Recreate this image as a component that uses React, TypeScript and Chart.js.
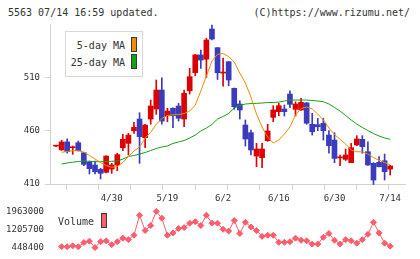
import React, { useEffect, useRef } from 'react';
import { Chart, registerables } from 'chart.js';

Chart.register(...registerables);

const FONT = '"DejaVu Sans Mono", monospace';
const TEXT = '#333333';
const AXIS = '#d2d2d2';
const UP = '#dd0000';
const DOWN = '#3b3bbd';
const MA5_COLOR = '#f08c00';
const MA25_COLOR = '#14a314';
const VOL_COLOR = '#ff5c6c';

// Daily prices, session 0 .. 60 (last session 7/14)
const opens = [445.5, 442, 449.5, 444, 448.7, 439.3, 430.3, 427.8, 423.7, 421, 424, 427.8, 444, 448.1, 459.9, 470.9, 453.4, 470.9, 480.3, 498.1, 474, 481, 483.1, 470.9, 497.4, 514.3, 531, 527, 555.3, 537.8, 514, 524.6, 499.7, 485, 465.3, 458.1, 436.2, 434.7, 450.6, 472.5, 477.8, 480.3, 494.3, 480, 479.4, 486, 466, 465.6, 466.9, 455.9, 451.2, 434.5, 433.1, 430, 446.6, 451.9, 440.3, 429.4, 430.3, 431.8, 424];
const highs = [446, 451, 452.3, 445.6, 450.3, 439.5, 431.6, 431.6, 424.7, 436.5, 429.4, 438.8, 456.6, 457.5, 467.8, 476.8, 466, 488.7, 507.5, 509.6, 481, 481.5, 485.6, 498.1, 518.4, 531.5, 535.6, 546.5, 559, 538, 528, 525, 500, 488, 470, 460.6, 448.1, 448.1, 466, 483.4, 485.6, 484, 497.4, 487, 490.3, 486.5, 476.3, 471.6, 471.6, 460, 458.1, 437.2, 442.8, 448.1, 455.3, 455.3, 449.6, 430, 435.6, 438.1, 427.5];
const lows = [445, 441.5, 438.8, 437.8, 441, 427.2, 419.4, 419.4, 414.7, 420.5, 420, 422.5, 441.2, 437.2, 457.5, 429.4, 444, 466, 475.3, 466, 468.4, 462.8, 469, 463.7, 494.3, 511.5, 518.4, 509.8, 545, 508, 501.8, 502.1, 480, 470.9, 445.6, 437.2, 426.2, 425.3, 450, 468.4, 474, 473.7, 481.5, 473.7, 479, 466, 455.9, 460, 451.2, 438.8, 430, 427.2, 432, 430, 446, 438.8, 427.5, 409.5, 426, 413.7, 418.4];
const closes = [445.8, 449.4, 440.3, 444.5, 441.2, 428.4, 424.4, 421.5, 420, 436.2, 427.8, 437.5, 451.9, 455.9, 463.1, 454.3, 465.3, 483.1, 498.1, 469, 478.4, 474, 471.6, 495, 510.6, 531, 526.2, 545, 545.9, 514.3, 514.6, 507.5, 482.4, 479.4, 452.2, 441.9, 442.8, 442.8, 459.7, 479.4, 483.4, 477.8, 484.7, 485, 486.6, 467, 459, 463.7, 460, 445.9, 434, 435, 437.2, 444, 452.2, 445, 427.8, 413.7, 426.2, 421.5, 426.9];

// Moving averages (no value on the first session)
const ma5 = [null, 439.7, 440.5, 441.2, 441.2, 440, 436.7, 433.4, 430.1, 427.3, 425.7, 426.4, 430.1, 435.8, 440.9, 444.7, 453, 458.5, 466, 471.4, 474.2, 474.9, 475.1, 476, 478.4, 484, 497.2, 511.2, 525.3, 531.6, 532.3, 529.5, 524.3, 514, 504.7, 491.5, 475.6, 463.4, 454, 448.4, 451.2, 456.9, 463.4, 474.7, 480.8, 482.2, 480.3, 475.6, 470, 462.5, 456.4, 451.9, 447.5, 441.9, 440.3, 440, 438.1, 434.8, 432.2, 430.1, 428];
const ma25 = [null, 428.7, 429.7, 430.4, 431.1, 431.6, 431.1, 430.9, 430.9, 431.1, 431.3, 431.6, 433.4, 435.8, 436.7, 438.1, 439.5, 441.4, 443.3, 444.7, 445.6, 448, 449.4, 450.8, 453.1, 455.9, 459.7, 462.5, 465.8, 470.9, 473.3, 476.1, 481.2, 483.6, 485, 485.4, 485.6, 485.9, 486.4, 486.4, 486.8, 487.8, 488.7, 488.7, 488.7, 488.7, 488.3, 487.8, 487.1, 485, 481.7, 478.4, 474.2, 470, 466.2, 463, 460.1, 457.3, 455, 453.1, 451.9];

// Volume for sessions 1 .. 60
const volumes = [485300, 485300, 522300, 485300, 657700, 719300, 448400, 694700, 731600, 571500, 694700, 842400, 780900, 965600, 1803000, 1162600, 1372000, 1963000, 1679800, 965600, 1064100, 1248800, 1285800, 1470500, 1532000, 1372000, 1803000, 1470500, 1470500, 1211900, 1138000, 1581300, 1039500, 1507400, 1310400, 1162600, 916300, 965600, 965600, 670000, 670000, 694700, 842400, 756200, 731600, 596200, 596200, 879400, 1039500, 756200, 596200, 780900, 731600, 633100, 780900, 1002500, 1507400, 1064100, 633100, 510000];

const dateTickSessions = [10, 20, 30, 40, 50, 60];
const dateTickLabels = ['4/30', '5/19', '6/2', '6/16', '6/30', '7/14'];
const priceTicks = [410, 460, 510];
const PRICE_MIN = 410;
const PRICE_MAX = 560;
const volumeTicks = [448400, 1205700, 1963000];

const X_MIN = -1.08;
const X_MAX = 62.66;
const X_MARKS = 11;

const tickFont = { family: FONT, size: 9 };

function PriceChart() {
  const ref = useRef<HTMLCanvasElement>(null);
  useEffect(() => {
    const idx = closes.map((_, i) => i);
    const colors = idx.map((i) => (closes[i] >= opens[i] ? UP : DOWN));
    const chart = new Chart(ref.current!, {
      type: 'bar',
      data: {
        datasets: [
          {
            type: 'line',
            label: '5-day MA',
            data: ma5.map((v, i) => ({ x: i, y: v })),
            borderColor: MA5_COLOR,
            borderWidth: 1,
            pointRadius: 0,
            order: 0,
          } as any,
          {
            type: 'line',
            label: '25-day MA',
            data: ma25.map((v, i) => ({ x: i, y: v })),
            borderColor: MA25_COLOR,
            borderWidth: 1,
            pointRadius: 0,
            order: 1,
          } as any,
          {
            label: 'body',
            data: idx.map((i) => ({ x: i, y: [Math.min(opens[i], closes[i]), Math.max(opens[i], closes[i])] })),
            backgroundColor: colors,
            barThickness: 5,
            minBarLength: 1,
            grouped: false,
            order: 2,
          } as any,
          {
            label: 'range',
            data: idx.map((i) => ({ x: i, y: [lows[i], highs[i]] })),
            backgroundColor: colors,
            barThickness: 1,
            grouped: false,
            clip: false,
            order: 3,
          } as any,
        ],
      },
      options: {
        responsive: false,
        animation: false,
        layout: { padding: { left: 0, right: 15, top: 24, bottom: 0 } },
        plugins: { legend: { display: false }, tooltip: { enabled: false } },
        scales: {
          x: {
            type: 'linear',
            min: X_MIN,
            max: X_MAX,
            offset: false,
            position: 'bottom',
            weight: 0,
            afterBuildTicks: (s: any) => {
              s.ticks = Array.from({ length: X_MARKS + 1 }, (_, k) => ({ value: X_MIN + (k * (X_MAX - X_MIN)) / X_MARKS }));
            },
            ticks: { display: false },
            grid: { display: true, drawOnChartArea: false, drawTicks: true, tickLength: 6, color: AXIS },
            border: { display: true, color: AXIS },
            afterFit: (s: any) => {
              s.height = 6;
            },
          },
          x2: {
            type: 'linear',
            min: X_MIN,
            max: X_MAX,
            offset: false,
            position: 'bottom',
            weight: 1,
            afterBuildTicks: (s: any) => {
              s.ticks = dateTickSessions.map((v) => ({ value: v }));
            },
            ticks: {
              padding: 3,
              font: tickFont,
              color: TEXT,
              maxRotation: 0,
              autoSkip: false,
              callback: (v: any) => dateTickLabels[dateTickSessions.indexOf(Number(v))] ?? '',
            },
            grid: { display: false, drawTicks: false },
            border: { display: false },
            afterFit: (s: any) => {
              s.height = 16;
            },
          },
          y: {
            type: 'linear',
            min: PRICE_MIN,
            max: PRICE_MAX,
            position: 'left',
            afterBuildTicks: (s: any) => {
              s.ticks = priceTicks.map((v) => ({ value: v }));
            },
            ticks: { font: tickFont, color: TEXT, padding: 5, callback: (v: any) => String(v) },
            grid: { display: true, drawOnChartArea: false, drawTicks: true, tickLength: 5, color: AXIS },
            border: { display: true, color: AXIS },
            afterFit: (s: any) => {
              s.width = 50;
            },
          },
        },
      } as any,
    });
    return () => chart.destroy();
  }, []);
  return <canvas ref={ref} width={420} height={206} style={{ position: 'absolute', left: 0, top: 0 }} />;
}

function VolumeChart() {
  const ref = useRef<HTMLCanvasElement>(null);
  useEffect(() => {
    const chart = new Chart(ref.current!, {
      type: 'line',
      data: {
        datasets: [
          {
            label: 'Volume',
            data: volumes.map((v, i) => ({ x: i + 1, y: v })),
            borderColor: VOL_COLOR,
            backgroundColor: VOL_COLOR,
            borderWidth: 1,
            pointStyle: 'rectRot',
            pointRadius: 3,
            pointBorderWidth: 1,
            pointBorderColor: VOL_COLOR,
            pointBackgroundColor: VOL_COLOR,
            clip: false,
          } as any,
        ],
      },
      options: {
        responsive: false,
        animation: false,
        layout: { padding: { left: 0, right: 15, top: 9, bottom: 9 } },
        plugins: { legend: { display: false }, tooltip: { enabled: false } },
        scales: {
          x: { type: 'linear', min: X_MIN, max: X_MAX, display: false },
          y: {
            type: 'linear',
            min: volumeTicks[0],
            max: volumeTicks[2],
            afterBuildTicks: (s: any) => {
              s.ticks = volumeTicks.map((v) => ({ value: v }));
            },
            ticks: { font: tickFont, color: TEXT, padding: 6, callback: (v: any) => String(v) },
            grid: { display: false, drawTicks: false },
            border: { display: false },
            afterFit: (s: any) => {
              s.width = 50;
            },
          },
        },
      } as any,
    });
    return () => chart.destroy();
  }, []);
  return <canvas ref={ref} width={420} height={59} style={{ position: 'absolute', left: 0, top: 200 }} />;
}

const swatch = (color: string, left: number, top: number): React.CSSProperties => ({
  position: 'absolute',
  left,
  top,
  width: 6,
  height: 15,
  boxSizing: 'border-box',
  border: '1px solid #3a3a3a',
  background: color,
});

const label = (top: number, right: number): React.CSSProperties => ({
  position: 'absolute',
  top,
  right,
  fontSize: 10,
  lineHeight: '12px',
  color: TEXT,
  whiteSpace: 'nowrap',
});

export default function App() {
  return (
    <div
      style={{
        position: 'absolute',
        left: 0,
        top: 0,
        width: 420,
        height: 259,
        overflow: 'hidden',
        background: '#ffffff',
        fontFamily: FONT,
      }}
    >
      <div style={{ position: 'absolute', left: 8, top: 7, fontSize: 10, lineHeight: '12px', color: TEXT, whiteSpace: 'nowrap' }}>
        5563 07/14 16:59 updated.
      </div>
      <div style={{ position: 'absolute', right: 10, top: 7, fontSize: 10, lineHeight: '12px', color: TEXT, whiteSpace: 'nowrap' }}>
        (C)https://www.rizumu.net/
      </div>
      <PriceChart />
      <VolumeChart />
      <div
        style={{
          position: 'absolute',
          left: 65,
          top: 31,
          width: 78,
          height: 46,
          boxSizing: 'border-box',
          border: '1px solid #d8d8d8',
          background: '#ffffff',
        }}
      >
        <span style={label(8, 17)}>5-day MA</span>
        <div style={swatch(MA5_COLOR, 65, 5)} />
        <span style={label(25, 17)}>25-day MA</span>
        <div style={swatch(MA25_COLOR, 65, 22)} />
      </div>
      <div style={{ position: 'absolute', left: 58, top: 216, fontSize: 10, lineHeight: '12px', color: TEXT }}>Volume</div>
      <div style={swatch(VOL_COLOR, 101, 213)} />
    </div>
  );
}
